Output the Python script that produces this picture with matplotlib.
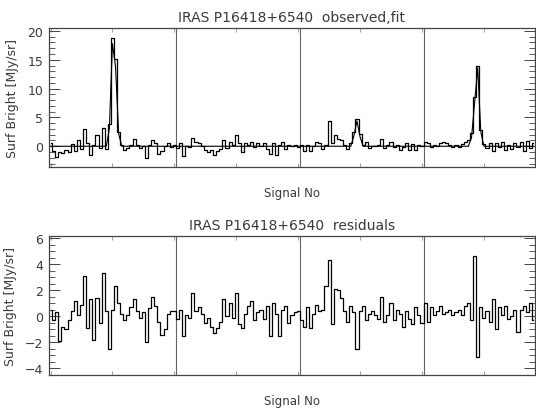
import numpy as np
import matplotlib
matplotlib.use("Agg")
import matplotlib.pyplot as plt
from matplotlib.ticker import MultipleLocator, NullFormatter

# ---------------- data ----------------
observed = [
    0.5, -0.8, -1.8, -1.0, -1.2, -0.6, -1.0, 0.4, -0.8, 1.0,
    -0.5, 3.0, 0.6, -1.6, 0.2, 1.9, -0.3, 3.1, -0.5, 3.8,
    18.7, 15.2, 2.5, 0.2, -0.6, -0.3, 0.3, 1.2, 0.2, -0.3,
    0.0, -2.0, 0.3, 1.0, 0.5, -1.4, -0.8, 0.0, 0.5, -0.2,
    0.3, -0.3, 0.5, -1.7, 0.0, -0.2, 1.4, 0.8, 0.5, 0.0,
    -0.6, -1.0, -0.7, -1.5, -0.8, -0.4, 1.0, -0.3, 0.8, 0.3,
    2.0, 0.5, -1.0, 0.6, 0.3, 0.8, -0.2, 0.5, 0.0, 0.6,
    -0.4, -1.3, 0.5, -1.5, 0.2, 0.8, -0.4, 0.3, 0.0, 0.2,
    -0.2, 0.3, -0.8, 0.2, -0.8, 0.0, 0.8, 0.6, -0.5, 0.3,
    4.3, 0.5, 1.9, 1.2, 1.0, 0.3, -0.4, 0.5, 2.4, 4.8,
    2.2, 0.3, 0.8, -0.3, 0.1, 0.0, 0.2, 1.3, -0.3, 0.2,
    0.8, -0.2, 0.3, -0.7, -0.2, 0.5, -0.6, 0.4, -0.7, 0.2,
    0.0, 0.8, 0.6, -0.2, 0.3, 0.1, 0.5, 0.7, 0.6, 0.2,
    -0.2, 0.3, -0.1, 0.4, 0.7, 1.0, 2.3, 8.5, 14.0, 2.8,
    0.4, -0.3, 0.6, -0.9, 0.5, -0.2, 0.8, -0.7, 0.3, -0.4,
    0.6, -0.2, 0.8, -0.8, 0.9, -0.3, 0.5,
]

# fitted model: zero baseline except at the fitted sources (index: value)
fit_peaks = {19: 3.0, 20: 17.8, 21: 13.8, 22: 2.2,
             98: 1.8, 99: 4.4, 100: 1.6,
             136: 1.5, 137: 7.5, 138: 13.6, 139: 2.5}

residuals = [
    0.5, -0.3, 0.3, -1.9, -0.8, -1.0, -0.3, 0.4, 1.2, 0.1,
    0.9, 3.1, -0.9, 1.3, -1.8, 1.4, -0.5, 3.3, 0.4, -2.5,
    0.5, 2.3, 1.0, 0.2, -0.3, 0.1, 0.7, 1.3, 0.4, -0.1,
    0.3, -2.0, 0.6, 1.5, 0.8, -0.4, -1.4, -1.0, 0.2, 0.4,
    0.4, -0.2, 0.5, -1.5, 0.1, -0.1, 1.8, 0.4, 0.7, 0.2,
    -0.5, -0.1, -0.8, -1.3, -0.9, -0.4, 1.3, 0.0, 1.0, -0.1,
    1.8, -0.6, -0.9, 0.2, 0.8, 1.2, -0.3, 0.3, 0.5, -0.2,
    0.8, -1.5, 1.0, 0.2, -1.5, 0.5, 0.8, -0.5, 0.1, 0.3,
    0.4, -0.3, -0.8, 0.7, -0.9, 0.2, 0.9, 0.4, 0.5, 2.3,
    4.3, -0.6, 2.1, 2.0, 1.4, 0.4, -0.4, 0.8, 0.3, -2.5,
    0.4, 0.8, -0.3, 0.2, 0.4, 0.1, -0.2, 1.5, -0.4, 0.1,
    1.0, -0.3, 0.5, 0.2, -0.8, 0.4, -0.2, -0.6, 0.7, 0.1,
    -0.5, 1.0, -0.4, 0.7, 0.1, 0.4, 0.8, 0.2, 0.3, 0.5,
    0.1, 0.3, 0.5, 0.1, 0.8, 1.0, -0.3, 4.6, -3.1, 0.7,
    -0.1, 0.4, -0.4, 1.3, -1.0, 0.7, 0.1, 0.8, -0.2, 0.0,
    0.5, -1.2, 0.5, 0.8, 0.3, 1.0, -0.3,
]

scan_boundaries = [40, 80, 120]
title_top = "IRAS P16418+6540  observed,fit"
title_bot = "IRAS P16418+6540  residuals"
ylabel = "Surf Bright [MJy/sr]"
xlabel = "Signal No"

# ---------------- plot ----------------
n = len(observed)
x = np.arange(n)
fit = np.zeros(n)
for k, v in fit_peaks.items():
    fit[k] = v

fig = plt.figure(figsize=(5.36, 4.10), dpi=100)
ax1 = fig.add_axes([0.0914, 0.5902, 0.9067, 0.339])
ax2 = fig.add_axes([0.0914, 0.0829, 0.9067, 0.339])

tcol = "#3a3a3a"

def style(ax, ylim, major, minor):
    ax.set_xlim(-0.5, n - 0.5)
    ax.set_ylim(*ylim)
    for b in scan_boundaries:
        ax.axvline(b + 0.5, color="#666666", lw=0.8, zorder=1)
    ax.yaxis.set_major_locator(MultipleLocator(major))
    ax.yaxis.set_minor_locator(MultipleLocator(minor))
    ax.xaxis.set_major_locator(MultipleLocator(20))
    ax.xaxis.set_major_formatter(NullFormatter())
    ax.tick_params(axis="y", which="major", direction="in", length=8,
                   width=0.7, left=True, right=True, labelsize=9,
                   labelcolor=tcol, pad=4, color="#444444")
    ax.tick_params(axis="y", which="minor", direction="in", length=4,
                   width=0.6, left=True, right=True, color="#444444")
    ax.tick_params(axis="x", which="major", direction="in", length=3,
                   width=0.5, top=True, bottom=True, color="#777777")
    for s in ax.spines.values():
        s.set_linewidth(0.9)
        s.set_color("#444444")
    ax.set_ylabel(ylabel, fontsize=9, color=tcol, labelpad=6)
    ax.set_xlabel(xlabel, fontsize=8.5, color=tcol, labelpad=10)

ax1.step(x, observed, where="mid", color="black", lw=0.9, zorder=3)
ax1.plot(x, fit, color="black", lw=0.8, zorder=4)
style(ax1, (-3.6, 20.5), 5, 1)
ax1.set_title(title_top, fontsize=10, color=tcol, pad=5)

ax2.step(x, residuals, where="mid", color="black", lw=0.9, zorder=3)
style(ax2, (-4.5, 6.15), 2, 0.5)
ax2.set_title(title_bot, fontsize=10, color=tcol, pad=5)

fig.savefig("out.png", dpi=100)
